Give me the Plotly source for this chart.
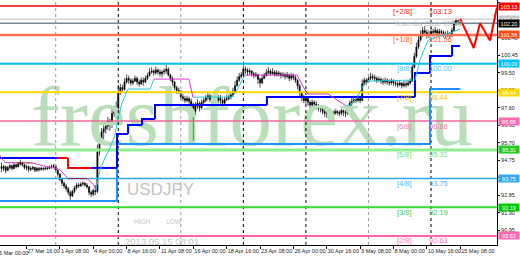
import plotly.graph_objects as go

# ---------------- data ----------------
first_open = 94.40
bar_close = [
    94.30, 94.40, 94.20, 94.35, 94.45, 94.30, 94.50, 94.40, 94.55, 94.60,
    94.50, 94.35, 94.40, 94.25, 94.30, 94.35, 94.20, 94.30, 94.25, 94.30,
    94.28, 94.32, 94.30, 94.38, 94.40, 94.45, 94.20, 94.00, 93.70, 93.50,
    93.35, 93.20, 93.00, 92.80, 93.05, 93.25, 93.40, 93.35, 93.45, 93.50,
    93.40, 93.30, 93.00, 92.90, 93.10, 93.05, 95.20, 95.90, 96.30, 96.45,
    96.60, 96.90, 96.70, 97.30, 97.40, 97.50, 98.40, 98.70, 98.60, 99.00,
    99.20, 99.10, 98.95, 99.05, 99.20, 99.00, 98.90, 99.10, 99.00, 99.20,
    99.35, 99.55, 99.60, 99.50, 99.65, 99.55, 99.45, 99.55, 99.60, 99.70,
    99.40, 99.20, 99.00, 98.70, 98.55, 98.50, 98.20, 98.10, 98.00, 98.10,
    97.95, 97.80, 97.40, 97.70, 97.85, 97.60, 97.90, 98.00, 98.15, 98.25,
    98.05, 98.10, 97.90, 98.00, 98.15, 98.00, 97.85, 98.05, 98.10, 98.20,
    98.30, 98.50, 98.80, 99.10, 99.30, 99.40, 99.70, 99.65, 99.55, 99.60,
    99.45, 99.35, 99.40, 99.15, 98.95, 99.20, 99.35, 99.50, 99.60, 99.45,
    99.55, 99.40, 99.50, 99.45, 99.35, 99.40, 99.30, 99.40, 99.20, 99.35,
    99.25, 99.10, 98.80, 98.40, 98.20, 98.00, 98.10, 97.90, 97.75, 97.90,
    97.80, 97.70, 97.55, 97.60, 97.40, 97.30, 97.35, 97.15, 97.35, 97.30,
    97.40, 97.35, 97.30, 97.45, 97.35, 97.30, 97.50, 97.85, 97.95, 98.05,
    98.00, 98.10, 98.00, 98.90, 99.10, 99.00, 99.20, 99.30, 99.25, 99.20,
    99.10, 99.15, 99.05, 99.00, 99.10, 99.00, 98.95, 99.05, 98.95, 98.90,
    98.85, 98.95, 98.80, 98.90, 98.85, 98.95, 99.05, 99.80, 100.40, 100.90,
    101.30, 101.60, 101.80, 101.70, 101.55, 101.60, 101.75, 101.70, 101.80, 101.65,
    101.75, 101.70, 101.60, 101.55, 101.65, 101.50, 101.80, 102.20, 102.35, 102.25,
    102.20,
]
bar_high = [
    94.62, 94.50, 94.45, 94.45, 94.55, 94.50, 94.60, 94.55, 94.65, 94.78,
    94.68, 94.55, 94.50, 94.45, 94.42, 94.45, 94.40, 94.40, 94.38, 94.40,
    94.38, 94.42, 94.40, 94.45, 94.50, 94.55, 94.50, 94.25, 94.05, 93.80,
    93.60, 93.45, 93.30, 93.10, 93.15, 93.35, 93.50, 93.50, 93.55, 93.60,
    93.55, 93.50, 93.35, 93.10, 93.20, 93.40, 95.60, 96.10, 96.50, 96.65,
    96.85, 97.10, 97.00, 97.60, 97.70, 97.95, 98.85, 98.90, 98.85, 99.20,
    99.40, 99.35, 99.20, 99.20, 99.35, 99.30, 99.15, 99.25, 99.25, 99.35,
    99.50, 99.75, 99.80, 99.70, 99.85, 99.75, 99.70, 99.65, 99.75, 99.95,
    99.80, 99.45, 99.30, 99.05, 98.80, 98.70, 98.55, 98.35, 98.25, 98.25,
    98.20, 98.10, 97.85, 97.90, 98.05, 97.95, 98.05, 98.15, 98.30, 98.40,
    98.35, 98.30, 98.20, 98.15, 98.30, 98.30, 98.10, 98.20, 98.30, 98.35,
    98.50, 98.70, 99.05, 99.30, 99.50, 99.55, 99.90, 99.85, 99.75, 99.75,
    99.65, 99.55, 99.55, 99.45, 99.25, 99.40, 99.50, 99.70, 99.80, 99.70,
    99.75, 99.65, 99.65, 99.60, 99.55, 99.55, 99.50, 99.55, 99.45, 99.50,
    99.45, 99.35, 99.15, 98.90, 98.50, 98.30, 98.25, 98.20, 98.00, 98.05,
    98.00, 97.95, 97.80, 97.75, 97.70, 97.55, 97.50, 97.45, 97.50, 97.45,
    97.55, 97.50, 97.45, 97.55, 97.50, 97.50, 97.65, 98.00, 98.20, 98.25,
    98.20, 98.30, 98.25, 99.15, 99.25, 99.20, 99.35, 99.50, 99.45, 99.40,
    99.30, 99.30, 99.25, 99.20, 99.25, 99.20, 99.15, 99.20, 99.15, 99.10,
    99.05, 99.10, 99.00, 99.05, 99.05, 99.10, 99.20, 99.95, 100.60, 101.15,
    101.50, 101.80, 102.00, 102.05, 101.85, 101.80, 101.95, 101.90, 102.00, 101.90,
    101.90, 101.85, 101.80, 101.75, 101.80, 101.70, 101.95, 102.35, 102.50, 102.45,
    102.40,
]
bar_low = [
    94.10, 94.15, 94.05, 94.15, 94.25, 94.20, 94.25, 94.30, 94.35, 94.45,
    94.40, 94.25, 94.20, 94.10, 94.15, 94.20, 94.10, 94.12, 94.12, 94.18,
    94.18, 94.20, 94.22, 94.25, 94.30, 94.32, 94.10, 93.85, 93.60, 93.35,
    93.20, 93.05, 92.85, 92.60, 92.75, 92.95, 93.15, 93.25, 93.30, 93.35,
    93.30, 93.20, 92.85, 92.75, 92.80, 92.85, 92.95, 95.00, 95.60, 95.90,
    96.20, 96.40, 96.35, 96.50, 97.10, 97.00, 97.50, 98.30, 98.40, 98.55,
    98.90, 98.90, 98.80, 98.85, 99.00, 98.85, 98.75, 98.85, 98.80, 98.95,
    99.10, 99.30, 99.45, 99.35, 99.40, 99.40, 99.30, 99.25, 99.40, 99.45,
    99.30, 99.05, 98.80, 98.55, 98.35, 98.35, 98.05, 97.95, 97.85, 97.90,
    97.80, 97.60, 96.80, 97.20, 97.55, 97.40, 97.50, 97.75, 97.90, 98.00,
    97.90, 97.85, 97.70, 97.75, 97.85, 97.80, 97.60, 97.70, 97.95, 98.00,
    98.05, 98.20, 98.40, 98.75, 99.00, 99.20, 99.45, 99.45, 99.35, 99.40,
    99.30, 99.20, 99.25, 98.90, 98.70, 98.90, 99.15, 99.30, 99.40, 99.35,
    99.40, 99.30, 99.30, 99.30, 99.20, 99.25, 99.15, 99.20, 99.05, 99.10,
    99.10, 98.95, 98.60, 98.20, 97.95, 97.85, 97.80, 97.70, 97.55, 97.65,
    97.60, 97.50, 97.40, 97.35, 97.25, 97.10, 97.05, 96.95, 97.05, 97.15,
    97.20, 97.20, 97.15, 97.20, 97.15, 97.10, 97.20, 97.40, 97.70, 97.85,
    97.85, 97.90, 97.85, 97.95, 98.80, 98.85, 99.00, 99.10, 99.10, 99.05,
    98.95, 99.00, 98.90, 98.85, 98.90, 98.85, 98.80, 98.85, 98.80, 98.75,
    98.70, 98.75, 98.65, 98.70, 98.70, 98.75, 98.85, 99.00, 99.75, 100.30,
    100.80, 101.20, 101.45, 101.50, 101.35, 101.40, 101.55, 101.50, 101.60, 101.50,
    101.55, 101.55, 101.45, 101.40, 101.45, 101.35, 101.45, 101.75, 102.05, 102.10,
    102.10,
]
bar_index = list(range(len(bar_close)))
bar_open = [first_open] + bar_close[:-1]

tick_bars = [-4, 12, 28, 44, 60, 76, 92, 108, 124, 140, 156, 172, 188, 204, 220]
tick_labels = ["25 Mar 00:00", "27 Mar 16:00", "1 Apr 08:00", "4 Apr 00:00", "8 Apr 16:00",
               "11 Apr 08:00", "16 Apr 00:00", "18 Apr 16:00", "23 Apr 08:00", "26 Apr 00:00",
               "30 Apr 16:00", "3 May 08:00", "8 May 00:00", "10 May 16:00", "15 May 08:00"]
week_start_bars = [26, 56, 86, 116, 146, 176, 206]

price_ticks = [90.00, 90.95, 91.90, 92.85, 93.80, 94.75, 95.70, 96.65, 97.60,
               98.55, 99.50, 100.45, 101.40, 102.35, 103.30]

mm_names = ["[+2/8]", "[+1/8]", "[8/8]", "[7/8]", "[6/8]", "[5/8]", "[4/8]", "[3/8]", "[2/8]"]
mm_values = [103.13, 101.56, 100.00, 98.44, 96.88, 95.31, 93.75, 92.19, 90.63]
yesterday_close = 102.42

# trailing line: vertices and the state of the segment that starts at each vertex
trail_x = [-1.0, 0.7, 2.0, 7.0, 15.0, 20.0, 26.0, 28.0, 31.0, 32.0, 41.0, 44.0, 45.3,
           47.2, 49.6, 52.0, 54.4, 55.9, 57.8, 60.7, 71.2, 73.1, 89.9, 91.8, 110.6,
           113.0, 114.9, 116.8, 141.7, 145.6, 147.0, 156.6, 164.7, 166.7, 170.5,
           173.9, 176.7, 198.3, 200.7, 204.6, 210.3, 215.1, 219.9]
trail_y = [95.05, 94.75, 94.62, 94.61, 94.60, 94.45, 94.30, 94.25, 93.85, 93.75, 93.75,
           93.45, 93.13, 94.20, 94.87, 95.41, 96.11, 97.04, 97.86, 98.62, 98.62, 99.16,
           99.16, 98.18, 98.18, 98.57, 99.00, 99.38, 99.38, 98.57, 98.35, 98.35, 97.75,
           97.70, 98.13, 98.89, 99.05, 99.11, 100.20, 101.28, 101.50, 101.66, 101.88]
trail_state = ["dn", "dn", "dn", "hold", "dn", "dn", "dn", "dn", "dn", "hold", "dn", "dn",
               "up", "up", "up", "up", "up", "up", "up", "up", "up", "dn", "dn", "up",
               "up", "up", "up", "dn", "dn", "hold", "dn", "dn", "up", "up", "up", "up",
               "up", "up", "up", "up", "up", "up"]

# step stop line (blue = below price, red = above price)
stop_x = [-1.0, 26.6, 31.9, 43.4, 55.4, 60.7, 67.4, 73.6, 127.3, 198.3, 205.5, 216.1]
stop_y = [94.87, 94.87, 94.33, 94.33, 96.17, 96.66, 96.99, 97.75, 98.18, 99.49, 100.41, 100.96]
stop_state = ["up", "dn", "dn", "up", "up", "up", "up", "up", "up", "up", "up", "up"]

# second (slower) step line
floor_x = [-1.0, 55.4, 205.5]
floor_y = [92.53, 95.63, 98.62]

signal_bar = 92
signal_top, signal_bottom = 97.10, 95.80

proj_x = [220.0, 226.5, 229.5, 234.3, 237.6]
proj_y = [102.45, 100.85, 102.20, 101.26, 103.05]

# ---------------- layout geometry ----------------
X0, X1 = -0.72, 237.65
Y0, Y1 = 90.14, 103.46
PW, PH = 497.0, 245.0


def bx(px):
    return X0 + px / PW * (X1 - X0)


def py(pyx):
    return Y1 - pyx / PH * (Y1 - Y0)


def paper_x(b):
    return (b - X0) / (X1 - X0)


SANS = "Liberation Sans, Arial, sans-serif"
mm_line_colors = ["#FF0000", "#FF7050", "#00BFFF", "#FFD700", "#EE6A9A",
                  "#90EE90", "#30A8EC", "#33DD33", "#FF62A8"]
mm_text_colors = ["#FF2020", "#FF5A30", "#4FC8F8", "#F5C800", "#F080A8",
                  "#7ADB7A", "#50B4F0", "#44CC44", "#FF7AB4"]
mm_box_colors = ["#FF0000", "#FF4A1A", "#00BFFF", "#FFD700", "#FF69B4",
                 "#22CC22", "#33AAEE", "#00CC00", "#FF69B4"]
mm_widths = [1.5, 2.5, 2, 2, 1.5, 3, 1.5, 2, 2]
sep_colors = ["#9A9A9A", "#000000", "#9A9A9A", "#000000", "#000000", "#9A9A9A", "#000000"]

fig = go.Figure()

# watermark (drawn first, beneath everything)
fig.add_trace(go.Scatter(x=[bx(252)], y=[py(123.5)], mode="text", text=["freshforex.ru"],
                         textposition="middle center", cliponaxis=False,
                         textfont=dict(family="Liberation Serif, Times New Roman, serif",
                                       size=85, color="#B9DEB9"),
                         hoverinfo="skip", showlegend=False))

# weekly separators
for b, c in zip(week_start_bars, sep_colors):
    fig.add_trace(go.Scatter(x=[b, b], y=[Y0, Y1], mode="lines",
                             line=dict(color=c, width=1, dash="dot"),
                             hoverinfo="skip", showlegend=False))

# Murrey levels + yesterday close + bid
for v, c, w in zip(mm_values, mm_line_colors, mm_widths):
    fig.add_trace(go.Scatter(x=[X0 - 2, X1 + 2], y=[v, v], mode="lines",
                             line=dict(color=c, width=w), hoverinfo="skip", showlegend=False))
fig.add_trace(go.Scatter(x=[X0 - 2, X1 + 2], y=[yesterday_close, yesterday_close], mode="lines",
                         line=dict(color="#D4D4D4", width=1.5), hoverinfo="skip", showlegend=False))
bid = bar_close[-1]
fig.add_trace(go.Scatter(x=[X0 - 2, X1 + 2], y=[bid, bid], mode="lines",
                         line=dict(color="#778899", width=1.5), hoverinfo="skip", showlegend=False))

# candles
fig.add_trace(go.Candlestick(
    x=bar_index, open=bar_open, high=bar_high, low=bar_low, close=bar_close,
    increasing=dict(line=dict(color="#000000", width=0.7), fillcolor="#000000"),
    decreasing=dict(line=dict(color="#000000", width=0.7), fillcolor="#000000"),
    whiskerwidth=0, hoverinfo="skip", showlegend=False))

# slower step line
fx, fy = [], []
ends = floor_x[1:] + [bar_index[-1]]
for k in range(len(floor_x)):
    if k > 0:
        fx.append(floor_x[k]); fy.append(floor_y[k - 1])
    fx += [floor_x[k], ends[k]]
    fy += [floor_y[k], floor_y[k]]
fig.add_trace(go.Scatter(x=fx, y=fy, mode="lines", line=dict(color="#1E90FF", width=2),
                         hoverinfo="skip", showlegend=False))

# stop step line
ends = stop_x[1:] + [bar_index[-1]]
for state, col in (("up", "#0000FF"), ("dn", "#FF0000")):
    sx, sy = [], []
    for k in range(len(stop_x)):
        if stop_state[k] != state:
            continue
        if k > 0:
            sx.append(stop_x[k]); sy.append(stop_y[k - 1])
        sx += [stop_x[k], ends[k], None]
        sy += [stop_y[k], stop_y[k], None]
    fig.add_trace(go.Scatter(x=sx, y=sy, mode="lines", line=dict(color=col, width=2),
                             hoverinfo="skip", showlegend=False))

# trailing line
for state, col in (("up", "#22C8DC"), ("dn", "#D838D0"), ("hold", "#A01040")):
    tx, ty = [], []
    for k, s in enumerate(trail_state):
        if s == state:
            tx += [trail_x[k], trail_x[k + 1], None]
            ty += [trail_y[k], trail_y[k + 1], None]
    fig.add_trace(go.Scatter(x=tx, y=ty, mode="lines", line=dict(color=col, width=1),
                             hoverinfo="skip", showlegend=False))

# signal mark
fig.add_trace(go.Scatter(x=[signal_bar, signal_bar], y=[signal_top, signal_bottom], mode="lines",
                         line=dict(color="#00CC00", width=1), hoverinfo="skip", showlegend=False))

# projection zigzag
fig.add_trace(go.Scatter(x=proj_x, y=proj_y, mode="lines", line=dict(color="#FF0000", width=2),
                         cliponaxis=False, hoverinfo="skip", showlegend=False))

# info texts
def text_trace(px, pyy, txt, size, color):
    fig.add_trace(go.Scatter(x=[bx(px)], y=[py(pyy)], mode="text", text=[txt],
                             textposition="middle right", cliponaxis=False,
                             textfont=dict(family=SANS, size=size, color=color),
                             hoverinfo="skip", showlegend=False))


text_trace(127, 190.8, "USDJPY", 17, "#C4C4C4")
text_trace(134, 222.3, "HIGH", 6.5, "#C4C4C4")
text_trace(166, 222.3, "LOW", 6.5, "#C4C4C4")
text_trace(125, 242.4, "2013.05.15 08:01", 9.5, "#C4C4C4")

annotations = []
# Murrey labels
for name, v, tc in zip(mm_names, mm_values, mm_text_colors):
    annotations.append(dict(x=bx(413.5), y=v, xref="x", yref="y", text=name, showarrow=False,
                            xanchor="right", yanchor="middle", yshift=-5,
                            font=dict(family=SANS, size=7.5, color=tc)))
    annotations.append(dict(x=bx(426.5), y=v, xref="x", yref="y", text=f"{v:.2f}", showarrow=False,
                            xanchor="left", yanchor="middle", yshift=-5,
                            font=dict(family=SANS, size=7.5, color=tc)))
annotations.append(dict(x=bx(392), y=yesterday_close, xref="x", yref="y",
                        text=f"Yesterday Close {yesterday_close:.2f}", showarrow=False,
                        xanchor="left", yanchor="middle", yshift=-5,
                        font=dict(family=SANS, size=6.5, color="#C0C0C0")))

# price boxes on right axis
box_vals = mm_values + [yesterday_close, bid]
box_cols = mm_box_colors + ["#C8C8C8", "#000000"]
for v, bc in zip(box_vals, box_cols):
    annotations.append(dict(x=1.0, y=v, xref="paper", yref="y", text=f"{v:.2f}", showarrow=False,
                            xanchor="left", yanchor="middle", xshift=1, width=20, height=7,
                            bgcolor=bc, borderpad=0, align="center",
                            font=dict(family=SANS, size=5.5, color="#FFFFFF")))

# clipped first date label
annotations.append(dict(x=paper_x(tick_bars[0]), y=0, xref="paper", yref="paper",
                        text=tick_labels[0], showarrow=False, xanchor="left", yanchor="top",
                        yshift=-3, xshift=1, font=dict(family=SANS, size=5.5, color="#222222")))

fig.update_layout(
    width=520, height=260, margin=dict(l=0, r=23, t=0, b=15),
    paper_bgcolor="#FFFFFF", plot_bgcolor="#FFFFFF", showlegend=False,
    annotations=annotations,
    xaxis=dict(range=[X0, X1], showgrid=False, zeroline=False, rangeslider=dict(visible=False),
               tickmode="array", tickvals=tick_bars[1:], ticktext=tick_labels[1:],
               ticks="outside", ticklen=3, tickcolor="#000000", tickangle=0,
               ticklabelposition="outside right",
               tickfont=dict(family=SANS, size=5.5, color="#222222"),
               showline=True, linecolor="#000000", linewidth=1),
    yaxis=dict(range=[Y0, Y1], side="right", showgrid=False, zeroline=False,
               tickmode="array", tickvals=price_ticks, ticktext=[f"{t:.2f}" for t in price_ticks],
               ticks="outside", ticklen=2, tickcolor="#000000",
               tickfont=dict(family=SANS, size=5.5, color="#222222"),
               showline=True, linecolor="#000000", linewidth=1),
)

fig.write_html("out.html")
